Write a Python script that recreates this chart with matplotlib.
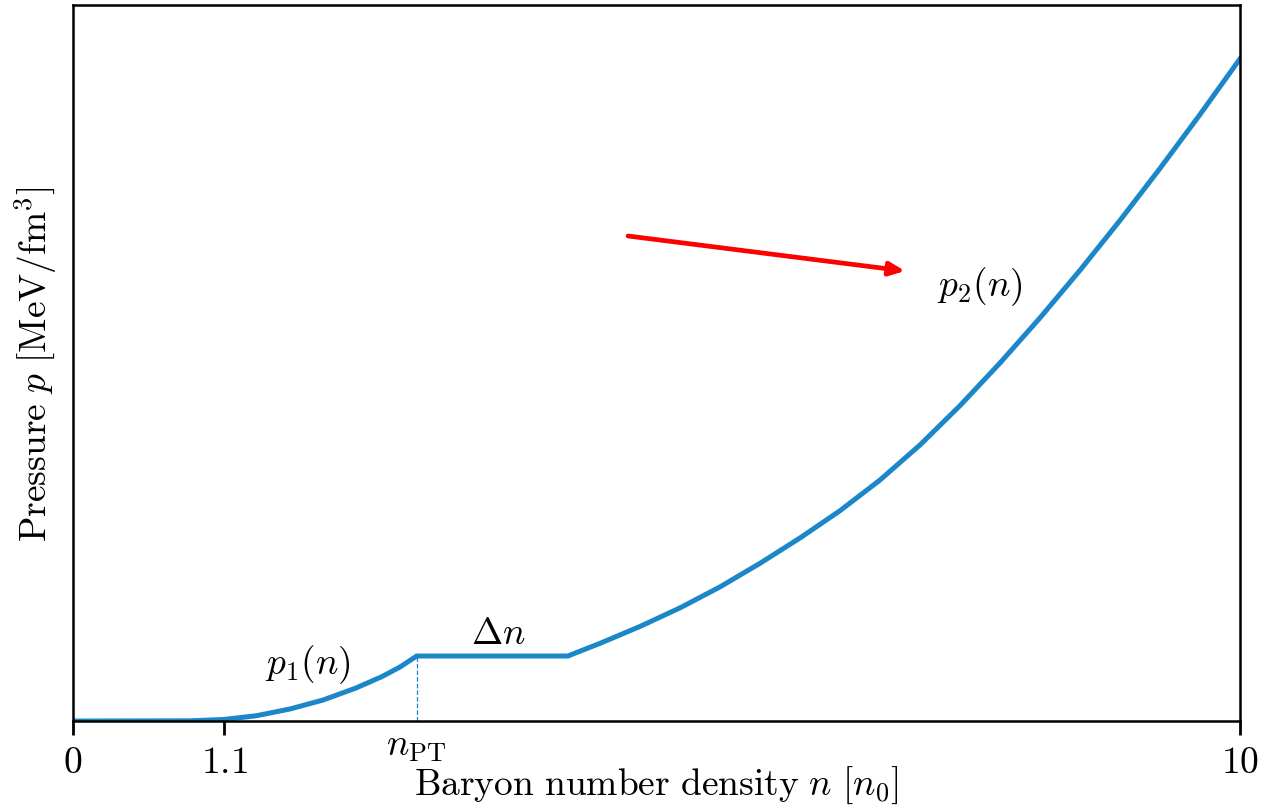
import numpy as np
import matplotlib
matplotlib.use("Agg")
import matplotlib.pyplot as plt

plt.rcParams['mathtext.fontset'] = 'cm'
plt.rcParams['font.family'] = 'serif'
plt.rcParams['font.serif'] = ['cmr10', 'DejaVu Serif']
plt.rcParams['axes.formatter.use_mathtext'] = True

# low density branch p1(n)
n1 = [0.0, 1.003, 1.294, 1.568, 1.859, 2.142, 2.425, 2.648, 2.802, 2.945]
p1 = [0.0, 0.0003, 0.0022, 0.0073, 0.0168, 0.0293, 0.0461, 0.0621, 0.0754, 0.0908]

# plateau (phase transition)
n_pt = 2.945
n_end = 4.24

# high density branch p2(n)
n2 = [4.24, 4.516, 4.859, 5.201, 5.544, 5.887, 6.230, 6.572, 6.915, 7.258,
      7.601, 7.943, 8.286, 8.629, 8.972, 9.314, 9.657, 10.0]
p2 = [0.0908, 0.1085, 0.1321, 0.1580, 0.1873, 0.2203, 0.2557, 0.2937, 0.3366,
      0.3856, 0.4406, 0.5000, 0.5631, 0.6296, 0.6993, 0.7718, 0.8471, 0.9250]

tick_pos = [0, 1.294, 10]
tick_lab = ['$0$', '$1.1$', '$10$']

blue = '#1b87c9'
fs = 27

fig = plt.figure(figsize=(12.78, 8.12), dpi=100)
ax = fig.add_axes([0.0571, 0.1108, 0.9132, 0.8818])

n_all = n1 + n2
p_all = p1 + p2
ax.plot(n_all, p_all, color=blue, lw=3.6, solid_joinstyle='miter')
ax.plot([n_pt, n_pt], [0, p1[-1]], color=blue, lw=0.9, ls='--')

ax.text(2.014, 0.0796, r'$p_1(n)$', fontsize=fs, ha='center', va='center')
ax.text(3.642, 0.1229, r'$\Delta n$', fontsize=fs, ha='center', va='center')
ax.text(7.772, 0.6075, r'$p_2(n)$', fontsize=fs, ha='center', va='center')
ax.text(n_pt, -0.012, r'$n_{\mathrm{PT}}$', fontsize=fs, ha='center', va='top')

ax.annotate('', xy=(7.129, 0.6285), xytext=(4.756, 0.6774),
            arrowprops=dict(arrowstyle='-|>,head_length=0.9,head_width=0.4',
                            color='red', lw=3.4, shrinkA=0, shrinkB=0))

ax.set_xlim(0, 10)
ax.set_ylim(0, 1)
ax.set_xticks(tick_pos)
ax.set_xticklabels(tick_lab, fontsize=fs)
ax.set_yticks([])
ax.tick_params(axis='x', direction='out', length=10, width=2, pad=8)
for s in ax.spines.values():
    s.set_linewidth(1.8)

ax.set_xlabel(r'$\mathrm{Baryon\ number\ density}\ n\ [n_0]$', fontsize=fs, labelpad=-11)
ax.set_ylabel(r'$\mathrm{Pressure}\ p\ [\mathrm{MeV/fm}^3]$', fontsize=fs, labelpad=10)

fig.savefig('out.png', dpi=100)
